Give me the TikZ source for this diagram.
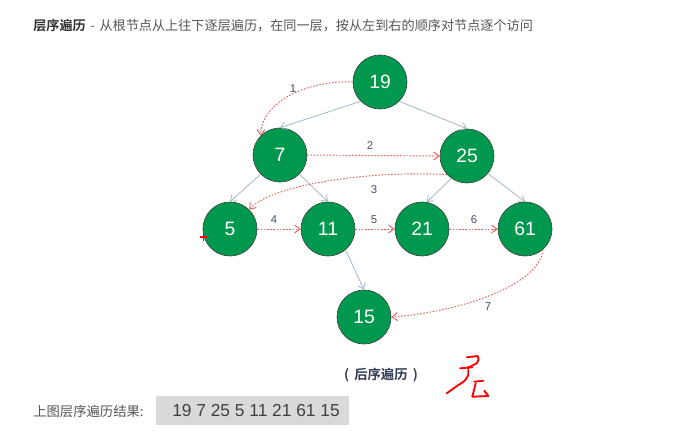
\documentclass[tikz,border=0pt]{standalone}
\usepackage{fontspec}
\setmainfont{Liberation Sans}
\newfontfamily\cjk{Noto Sans CJK SC}[BoldFont={Noto Sans CJK SC Bold}]
\usetikzlibrary{arrows.meta}
\definecolor{nodegreen}{HTML}{00984E}
\definecolor{nodeborder}{HTML}{3A4A40}
\definecolor{gedgec}{HTML}{A3B8C4}
\definecolor{redc}{HTML}{E0605A}
\definecolor{labc}{HTML}{4A5262}
\definecolor{txtc}{HTML}{555555}
\definecolor{capc}{HTML}{333C55}
\definecolor{boxc}{HTML}{D9D9D9}
\tikzset{
  circ/.style={circle, fill=nodegreen, draw=nodeborder, line width=0.5pt, minimum size=40.5pt, inner sep=0pt, text=white, font=\fontsize{14.5}{16}\selectfont},
  gedge/.style={draw=gedgec, line width=0.6pt, -{Straight Barb[length=4pt,width=6pt]}},
  redge/.style={draw=redc, line width=0.7pt, dash pattern=on 1.2pt off 1.2pt, -{Straight Barb[length=4pt,width=6pt]}},
  lab/.style={text=labc, font=\fontsize{8.5}{10}\selectfont, inner sep=0pt},
  scrib/.style={draw=red, line width=1.4pt, line cap=round, line join=round}
}
\begin{document}
\begin{tikzpicture}[x=0.75pt,y=-0.75pt]
\useasboundingbox[fill=white] (0,0) rectangle (680,444);
% title
\node[anchor=west, inner sep=0pt, font=\cjk\fontsize{9.85}{12}\selectfont] (title) at (33,26)
  {\textcolor{black!80}{\textbf{层序遍历}}\hspace{0.35em}\textcolor{txtc}{-\hspace{0.35em}从根节点从上往下逐层遍历，在同一层，按从左到右的顺序对节点逐个访问}};
% nodes
\node[circ] (n19) at (380,82) {19};
\node[circ] (n7) at (280,155) {7};
\node[circ] (n25) at (467,156) {25};
\node[circ] (n5) at (230,229) {5};
\node[circ] (n11) at (328,229) {11};
\node[circ] (n21) at (422,229) {21};
\node[circ] (n61) at (525,229) {61};
\node[circ] (n15) at (364,317) {15};
% tree edges
\draw[gedge] (n19.south west) -- (n7.north);
\draw[gedge] (n19.south east) -- (n25.north);
\draw[gedge] (n7.south west) -- (n5.north);
\draw[gedge] (n7.south east) -- (n11.north);
\draw[gedge] (n25.235) -- (n21.80);
\draw[gedge] (n25.-40) -- (n61.north);
\draw[gedge] (n11.-50) -- (n15.north);
% traversal edges
\draw[redge] (n19.west) .. controls (310,80) and (262,100) .. (n7.north west);
\draw[redge] (n7.east) -- (n25.west);
\draw[redge] (n25.223) .. controls (370,170) and (270,185) .. (n5.north east);
\draw[redge] (n5.east) -- (n11.west);
\draw[redge] (n11.east) -- (n21.west);
\draw[redge] (n21.east) -- (n61.west);
\draw[redge] (n61.-49) .. controls (540,285) and (460,312) .. (n15.east);
% labels
\node[lab] (l1) at (293,89) {1};
\node[lab] (l2) at (370,146) {2};
\node[lab] (l3) at (374,190) {3};
\node[lab] (l4) at (274,220) {4};
\node[lab] (l5) at (374,220) {5};
\node[lab] (l6) at (474,220) {6};
\node[lab] (l7) at (488,307) {7};
% caption
\node[inner sep=0pt, text=capc, font=\cjk\bfseries\fontsize{10}{12}\selectfont] (cap) at (381,375) {(\, 后序遍历 \,)};
% result line
\node[anchor=west, inner sep=0pt, text=txtc, font=\cjk\fontsize{10}{12}\selectfont] (res) at (33,411) {上图层序遍历结果:};
\fill[boxc] (156,396) rectangle (349,425);
\node[inner sep=0pt, text=black!75, font=\fontsize{13}{15}\selectfont] (seq) at (256,411) {19 7 25 5 11 21 61 15};
% red handwritten scribble
\draw[scrib] (466.7,357.3) -- (477.7,356) .. controls (479,359) .. (476.7,363.3) -- (470,366.7);
\draw[scrib] (460,368.3) -- (472.3,367.3);
\draw[scrib] (468.3,366.7) -- (468.3,375) .. controls (465,381) .. (458.3,385) -- (446.7,393.3);
\draw[scrib] (474.3,381.7) -- (483.3,380.7);
\draw[scrib] (475.7,383.3) -- (472.3,396.7) -- (488.3,396) -- (484.3,390.7);
% small red cross
\draw[red, line width=0.8pt] (200,237) -- (207,237) (203.5,233.5) -- (203.5,240.5);
\end{tikzpicture}
\end{document}
